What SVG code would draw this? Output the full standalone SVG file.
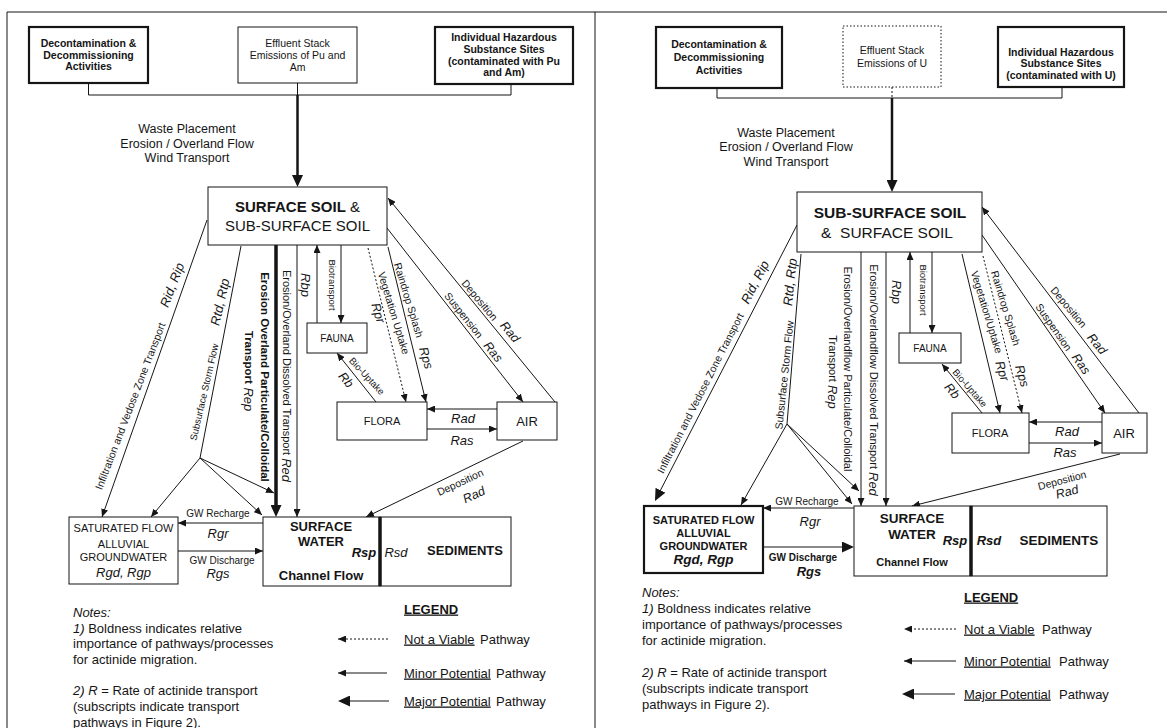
<svg xmlns="http://www.w3.org/2000/svg" width="1167" height="728" viewBox="0 0 1167 728">
<style>
.f{font-family:"Liberation Sans",Arial,Helvetica,sans-serif;fill:#151515}
.b{font-weight:bold}.i{font-style:italic}.c{text-anchor:middle}.r{dominant-baseline:central}
.u{text-decoration:underline}
.ln{stroke:#151515;fill:none;stroke-width:1}
.th{stroke-width:2.5}.tk{stroke-width:3.5}.dt{stroke-dasharray:2 2}
.bx{fill:#fff;stroke:#151515;stroke-width:1}.bb{stroke-width:2.2}.bd{stroke-dasharray:1.5 2}
.s9{font-size:9.5px}.s10{font-size:10px}.s105{font-size:10.5px}.s11{font-size:11px}.s12{font-size:12.5px}.s13{font-size:13px}.s15{font-size:15px}
</style>
<defs>
<marker id="a" viewBox="0 0 8 7" refX="8" refY="3.5" markerWidth="8" markerHeight="7" markerUnits="userSpaceOnUse" orient="auto"><path d="M0,0L8,3.5L0,7z" fill="#151515"/></marker>
<marker id="A" viewBox="0 0 12 11" refX="8" refY="5.5" markerWidth="12" markerHeight="11" markerUnits="userSpaceOnUse" orient="auto"><path d="M0,0L12,5.5L0,11z" fill="#151515"/></marker>
</defs>
<rect width="1167" height="728" fill="#fff"/>
<path class="ln" d="M7,728V12H1167M595,12V728"/>

<!-- LEFT PANEL -->
<g id="connectors-left">
<path class="ln" d="M88.5,83V95H511V84M297.5,83V95"/>
<line class="ln th" x1="297.5" y1="95" x2="297.5" y2="183" marker-end="url(#A)"/>
<line class="ln tk" x1="276" y1="245" x2="276" y2="513" marker-end="url(#A)"/>
<line class="ln" x1="297" y1="245" x2="297" y2="517" marker-end="url(#a)"/>
<line class="ln" x1="317" y1="323" x2="317" y2="245" marker-end="url(#a)"/>
<line class="ln" x1="341" y1="245" x2="341" y2="323" marker-end="url(#a)"/>
<line class="ln dt" x1="368" y1="248" x2="406" y2="402" marker-end="url(#a)"/>
<line class="ln" x1="388" y1="247" x2="426" y2="402" marker-end="url(#a)"/>
<line class="ln" x1="387" y1="228" x2="523" y2="402" marker-end="url(#a)"/>
<line class="ln" x1="555" y1="402" x2="388" y2="198" marker-end="url(#a)"/>
<line class="ln" x1="497" y1="409" x2="427" y2="409" marker-end="url(#a)"/>
<line class="ln" x1="427" y1="429" x2="497" y2="429" marker-end="url(#a)"/>
<line class="ln" x1="376" y1="402" x2="337" y2="353" marker-end="url(#a)"/>
<line class="ln" x1="523" y1="441" x2="366" y2="517" marker-end="url(#a)"/>
<line class="ln" x1="207" y1="220" x2="102" y2="517" marker-end="url(#a)"/>
<path class="ln" d="M241,246L200,458"/>
<line class="ln" x1="200" y1="458" x2="151" y2="517" marker-end="url(#a)"/>
<line class="ln" x1="200" y1="458" x2="262" y2="515" marker-end="url(#a)"/>
<line class="ln" x1="200" y1="458" x2="274" y2="493" marker-end="url(#a)"/>
<line class="ln" x1="263" y1="523" x2="178" y2="523" marker-end="url(#a)"/>
<line class="ln" x1="178" y1="551" x2="263" y2="551" marker-end="url(#a)"/>
<line class="ln th" x1="395" y1="537" x2="366" y2="537" marker-end="url(#A)"/>
<line class="ln th" x1="364" y1="567" x2="392" y2="567" marker-end="url(#A)"/>
</g>
<g id="L-decon"><rect class="bx bb" x="29" y="27" width="119" height="56"/>
<text class="f b c s105" x="88.5"><tspan x="88.5" y="47">Decontamination &amp;</tspan><tspan x="88.5" y="58.5">Decommissioning</tspan><tspan x="88.5" y="70">Activities</tspan></text></g>
<g id="L-effluent"><rect class="bx" x="238" y="27" width="119" height="56"/>
<text class="f c s105"><tspan x="297.5" y="47">Effluent Stack</tspan><tspan x="297.5" y="59">Emissions of Pu and</tspan><tspan x="297.5" y="70.5">Am</tspan></text></g>
<g id="L-ihss"><rect class="bx bb" x="435" y="27" width="138" height="57"/>
<text class="f b c s105"><tspan x="504" y="40.5">Individual Hazardous</tspan><tspan x="504" y="53">Substance Sites</tspan><tspan x="504" y="64.5">(contaminated with Pu</tspan><tspan x="504" y="75.5">and Am)</tspan></text></g>
<text class="f c s12"><tspan x="187" y="132.5">Waste Placement</tspan><tspan x="187" y="147.5">Erosion / Overland Flow</tspan><tspan x="187" y="162">Wind Transport</tspan></text>
<g id="L-soil"><rect class="bx" stroke-width="2.5" x="208" y="187" width="179" height="58"/>
<text class="f c s15" x="297.5" y="212"><tspan class="b">SURFACE SOIL</tspan> &amp;</text>
<text class="f c s15" x="297.5" y="230.5">SUB-SURFACE SOIL</text></g>
<g id="L-fauna"><rect class="bx" x="307" y="323" width="60" height="30"/><text class="f c s10" x="337" y="341.5">FAUNA</text></g>
<g id="L-flora"><rect class="bx" x="337" y="402" width="90" height="38"/><text class="f c s11" x="382" y="425">FLORA</text></g>
<g id="L-air"><rect class="bx" x="497" y="402" width="60" height="38"/><text class="f c s13" x="527" y="425.5">AIR</text></g>
<g id="L-sat"><rect class="bx" x="69" y="517" width="109" height="67"/>
<text class="f c s11"><tspan x="123.5" y="532">SATURATED FLOW</tspan><tspan x="123.5" y="548">ALLUVIAL</tspan><tspan x="123.5" y="560.5">GROUNDWATER</tspan></text>
<text class="f c i s13" x="123.5" y="577">Rgd, Rgp</text></g>
<g id="L-sw"><rect class="bx" stroke-width="2.5" x="263" y="517" width="117" height="69"/>
<text class="f b c s13"><tspan x="321" y="530.5">SURFACE</tspan><tspan x="321" y="545.5">WATER</tspan><tspan x="321" y="579.5">Channel Flow</tspan></text>
<text class="f b i c s13" x="364" y="556.5">Rsp</text></g>
<g id="L-sed"><rect class="bx" stroke-width="2.5" x="380" y="517" width="131" height="69"/>
<line class="ln tk" x1="380" y1="517" x2="380" y2="586"/>
<text class="f b c s13" x="465" y="554.5">SEDIMENTS</text>
<text class="f i c s13" x="396" y="556.5">Rsd</text></g>
<g id="L-labels">
<text class="f c r s105" transform="translate(130,406) rotate(-69)">Infiltration and Vedose Zone Transport</text>
<text class="f c r i s13" transform="translate(172,285) rotate(-69)">Rid, Rip</text>
<text class="f c r s9" transform="translate(204,392) rotate(-77)">Subsurface Storm Flow</text>
<text class="f c r i s13" transform="translate(220,302) rotate(-77)">Rtd, Rtp</text>
<text class="f b c r" font-size="11.5" transform="translate(265,377) rotate(90)">Erosion Overland Particulate/Colloidal</text>
<text class="f c r" transform="translate(249,371) rotate(90)"><tspan class="b" font-size="11.5">Transport</tspan><tspan class="i s13">  Rep</tspan></text>
<text class="f c r s11" transform="translate(287,376) rotate(90)">Erosion/Overland Dissolved Transport <tspan class="i s13">Red</tspan></text>
<text class="f c r i s13" transform="translate(305,285) rotate(90)">Rbp</text>
<text class="f c r s9" transform="translate(332,285) rotate(90)">Biotransport</text>
<text class="f c r s105" transform="translate(394,313) rotate(73)">Vegetation Uptake</text>
<text class="f c r i s12" transform="translate(378,313) rotate(73)">Rpr</text>
<text class="f c r s105" transform="translate(409,300) rotate(73)">Raindrop Splash</text>
<text class="f c r i s12" transform="translate(426,358) rotate(73)">Rps</text>
<text class="f c r s105" transform="translate(464,315) rotate(51.5)">Suspension</text>
<text class="f c r i s12" transform="translate(493,352) rotate(51.5)">Ras</text>
<text class="f c r s105" transform="translate(480,300) rotate(50)">Deposition</text>
<text class="f c r i s12" transform="translate(510,332) rotate(50)">Rad</text>
<text class="f c r s9" transform="translate(367,376) rotate(47)">Bio-Uptake</text>
<text class="f c r i s12" transform="translate(346,380) rotate(50)">Rb</text>
<text class="f c r s105" transform="translate(460,482) rotate(-25)">Deposition</text>
<text class="f c r i s12" transform="translate(474,495) rotate(-25)">Rad</text>
<text class="f c i s13" x="463" y="422.5">Rad</text>
<text class="f c i s13" x="462" y="444.5">Ras</text>
<text class="f c s10" x="218" y="516.5">GW Recharge</text>
<text class="f c i s13" x="218" y="537.5">Rgr</text>
<text class="f c s10" x="222" y="563.5">GW Discharge</text>
<text class="f c i s13" x="218" y="577.5">Rgs</text>
</g>
<g id="L-notes" class="f s13">
<text x="73" y="616.5" class="i">Notes:</text>
<text x="73" y="632.5"><tspan class="i">1)</tspan> Boldness indicates relative</text>
<text x="73" y="648">importance of pathways/processes</text>
<text x="73" y="663.5">for actinide migration.</text>
<text x="73" y="694.5"><tspan class="i">2) R</tspan> = Rate of actinide transport</text>
<text x="73" y="710.5">(subscripts indicate transport</text>
<text x="73" y="726.5">pathways in Figure 2).</text>
</g>
<g id="L-legend">
<text class="f b u s13" x="404" y="613.5">LEGEND</text>
<line class="ln dt" x1="388" y1="639" x2="338" y2="639" marker-end="url(#a)"/>
<line class="ln" x1="387" y1="673" x2="338" y2="673" marker-end="url(#a)"/>
<line class="ln" stroke-width="3" x1="389" y1="701" x2="342" y2="701" marker-end="url(#A)"/>
<text class="f s13" y="643.5"><tspan class="u" x="404">Not a Viable</tspan><tspan x="480">Pathway</tspan></text>
<text class="f s13" y="677.5"><tspan class="u" x="404">Minor Potential</tspan><tspan x="496">Pathway</tspan></text>
<text class="f s13" y="705.5"><tspan class="u" x="404">Major Potential</tspan><tspan x="496">Pathway</tspan></text>
</g>

<!-- RIGHT PANEL -->
<g id="connectors-right">
<path class="ln" d="M717,88V98H1062V87"/>
<path class="ln dt" d="M892,87V98"/>
<line class="ln th" x1="892" y1="98" x2="892" y2="188" marker-end="url(#A)"/>
<line class="ln" stroke-width="3" x1="797" y1="225" x2="656.8" y2="497.4" marker-end="url(#A)"/>
<path class="ln" d="M801,254L787,424"/>
<line class="ln" x1="787" y1="424" x2="741" y2="505" marker-end="url(#a)"/>
<line class="ln" x1="787" y1="424" x2="852" y2="504" marker-end="url(#a)"/>
<line class="ln" x1="787" y1="424" x2="859" y2="491" marker-end="url(#a)"/>
<line class="ln" x1="861" y1="252" x2="861" y2="506" marker-end="url(#a)"/>
<line class="ln" x1="886" y1="252" x2="886" y2="506" marker-end="url(#a)"/>
<line class="ln" x1="910" y1="333" x2="910" y2="252" marker-end="url(#a)"/>
<line class="ln" x1="932" y1="252" x2="932" y2="333" marker-end="url(#a)"/>
<line class="ln" x1="962" y1="254" x2="1000" y2="413" marker-end="url(#a)"/>
<line class="ln dt" x1="983" y1="256" x2="1022" y2="413" marker-end="url(#a)"/>
<line class="ln" x1="982" y1="235" x2="1105" y2="413" marker-end="url(#a)"/>
<line class="ln" x1="1139" y1="413" x2="982" y2="207" marker-end="url(#a)"/>
<line class="ln" x1="1102" y1="422" x2="1029" y2="422" marker-end="url(#a)"/>
<line class="ln" x1="1029" y1="443" x2="1102" y2="443" marker-end="url(#a)"/>
<line class="ln" x1="982" y1="413" x2="942" y2="364" marker-end="url(#a)"/>
<line class="ln" x1="1120" y1="454" x2="912" y2="506" marker-end="url(#a)"/>
<line class="ln" x1="854" y1="508" x2="763" y2="508" marker-end="url(#a)"/>
<line class="ln" stroke-width="3" x1="763" y1="547" x2="850" y2="547" marker-end="url(#A)"/>
<line class="ln th" x1="987" y1="523" x2="957" y2="523" marker-end="url(#A)"/>
<line class="ln th" x1="954" y1="553" x2="985" y2="553" marker-end="url(#A)"/>
</g>
<g id="R-decon"><rect class="bx bb" x="656" y="27" width="126" height="61"/>
<text class="f b c s105"><tspan x="719" y="48">Decontamination &amp;</tspan><tspan x="719" y="61">Decommissioning</tspan><tspan x="719" y="74">Activities</tspan></text></g>
<g id="R-effluent"><rect class="bx bd" x="843" y="26" width="98" height="61"/>
<text class="f c s105"><tspan x="892" y="54">Effluent Stack</tspan><tspan x="892" y="67">Emissions of U</tspan></text></g>
<g id="R-ihss"><rect class="bx bb" x="998" y="27" width="126" height="60"/>
<text class="f b c s105"><tspan x="1061" y="55.5">Individual Hazardous</tspan><tspan x="1061" y="67">Substance Sites</tspan><tspan x="1061" y="79">(contaminated with U)</tspan></text></g>
<text class="f c s12"><tspan x="786" y="136.5">Waste Placement</tspan><tspan x="786" y="150.5">Erosion / Overland Flow</tspan><tspan x="786" y="165.5">Wind Transport</tspan></text>
<g id="R-soil"><rect class="bx" stroke-width="2.5" x="797" y="192" width="185" height="60"/>
<text class="f b c" font-size="15.5" x="890" y="217.5">SUB-SURFACE SOIL</text>
<text class="f c" font-size="15.5" x="887" y="237.5" xml:space="preserve">&amp;  SURFACE SOIL</text></g>
<g id="R-fauna"><rect class="bx" x="899" y="333" width="62" height="30"/><text class="f c s10" x="930" y="351.5">FAUNA</text></g>
<g id="R-flora"><rect class="bx" x="952" y="413" width="77" height="40"/><text class="f c s11" x="990" y="437">FLORA</text></g>
<g id="R-air"><rect class="bx" x="1102" y="413" width="45" height="40"/><text class="f c s13" x="1124" y="437.5">AIR</text></g>
<g id="R-sat"><rect class="bx bb" x="644" y="506" width="119" height="67"/>
<text class="f b c s11"><tspan x="703.5" y="524">SATURATED FLOW</tspan><tspan x="703.5" y="537">ALLUVIAL</tspan><tspan x="703.5" y="550">GROUNDWATER</tspan></text>
<text class="f b i c" font-size="13.5" x="703.5" y="564">Rgd, Rgp</text></g>
<g id="R-sw"><rect class="bx" stroke-width="2.5" x="854" y="506" width="117" height="70"/>
<text class="f b c" font-size="13.5"><tspan x="912" y="523">SURFACE</tspan><tspan x="912" y="539">WATER</tspan></text>
<text class="f b c s11" x="912" y="566">Channel Flow</text>
<text class="f b i c s13" x="955" y="544.5">Rsp</text></g>
<g id="R-sed"><rect class="bx" stroke-width="2.5" x="971" y="506" width="136" height="70"/>
<line class="ln tk" x1="971" y1="506" x2="971" y2="576"/>
<text class="f b c" font-size="13.5" x="1059" y="545">SEDIMENTS</text>
<text class="f b i c s13" x="989" y="544.5">Rsd</text></g>
<g id="R-labels">
<text class="f c r s105" transform="translate(700,393) rotate(-63)">Infiltration and Vedose Zone Transport</text>
<text class="f c r i s13" transform="translate(755,282) rotate(-63)">Rid, Rip</text>
<text class="f c r s105" transform="translate(784,375) rotate(-84)">Subsurface Storm Flow</text>
<text class="f c r i s13" transform="translate(790,282) rotate(-84)">Rtd, Rtp</text>
<text class="f c r s11" transform="translate(848,369) rotate(90)">Erosion/Overlandflow Particulate/Colloidal</text>
<text class="f c r s11" transform="translate(833,372) rotate(90)">Transport <tspan class="i s13"> Rep</tspan></text>
<text class="f c r s11" transform="translate(874,380) rotate(90)">Erosion/Overlandflow Dissolved Transport <tspan class="i s13">Red</tspan></text>
<text class="f c r i s13" transform="translate(896,292) rotate(90)">Rbp</text>
<text class="f c r s9" transform="translate(923,290) rotate(90)">Biotransport</text>
<text class="f c r s105" transform="translate(987,312) rotate(73)">Vegetation/Uptake</text>
<text class="f c r i s12" transform="translate(1002,371) rotate(73)">Rpr</text>
<text class="f c r s105" transform="translate(1006,308) rotate(73)">Raindrop Splash</text>
<text class="f c r i s12" transform="translate(1022,376) rotate(73)">Rps</text>
<text class="f c r s105" transform="translate(1054,327) rotate(55)">Suspension</text>
<text class="f c r i s12" transform="translate(1081,364) rotate(55)">Ras</text>
<text class="f c r s105" transform="translate(1069,307) rotate(50)">Deposition</text>
<text class="f c r i s12" transform="translate(1097,344) rotate(50)">Rad</text>
<text class="f c r s9" transform="translate(970,388) rotate(49)">Bio-Uptake</text>
<text class="f c r i s12" transform="translate(952,391) rotate(49)">Rb</text>
<text class="f c r s105" transform="translate(1062,480) rotate(-15)">Deposition</text>
<text class="f c r i s12" transform="translate(1067,492) rotate(-15)">Rad</text>
<text class="f c i s13" x="1067" y="435.5">Rad</text>
<text class="f c i s13" x="1065" y="456.5">Ras</text>
<text class="f c s10" x="807" y="504.5">GW Recharge</text>
<text class="f c i s13" x="810" y="525.5">Rgr</text>
<text class="f b c s10" x="803" y="560.5">GW Discharge</text>
<text class="f b i c s13" x="809" y="575.5">Rgs</text>
</g>
<g id="R-notes" class="f s13">
<text x="642" y="596.5" class="i">Notes:</text>
<text x="642" y="612.5"><tspan class="i">1)</tspan> Boldness indicates relative</text>
<text x="642" y="628.5">importance of pathways/processes</text>
<text x="642" y="644.5">for actinide migration.</text>
<text x="642" y="676.5"><tspan class="i">2) R</tspan> = Rate of actinide transport</text>
<text x="642" y="692.5">(subscripts indicate transport</text>
<text x="642" y="708.5">pathways in Figure 2).</text>
</g>
<g id="R-legend">
<text class="f b u s13" x="964" y="601.5">LEGEND</text>
<line class="ln dt" x1="956" y1="629" x2="904" y2="629" marker-end="url(#a)"/>
<line class="ln" x1="956" y1="661" x2="904" y2="661" marker-end="url(#a)"/>
<line class="ln" stroke-width="3" x1="955" y1="694" x2="906" y2="694" marker-end="url(#A)"/>
<text class="f s13" y="633.5"><tspan class="u" x="964">Not a Viable</tspan><tspan x="1042">Pathway</tspan></text>
<text class="f s13" y="665.5"><tspan class="u" x="964">Minor Potential</tspan><tspan x="1059">Pathway</tspan></text>
<text class="f s13" y="698.5"><tspan class="u" x="964">Major Potential</tspan><tspan x="1059">Pathway</tspan></text>
</g>
</svg>
